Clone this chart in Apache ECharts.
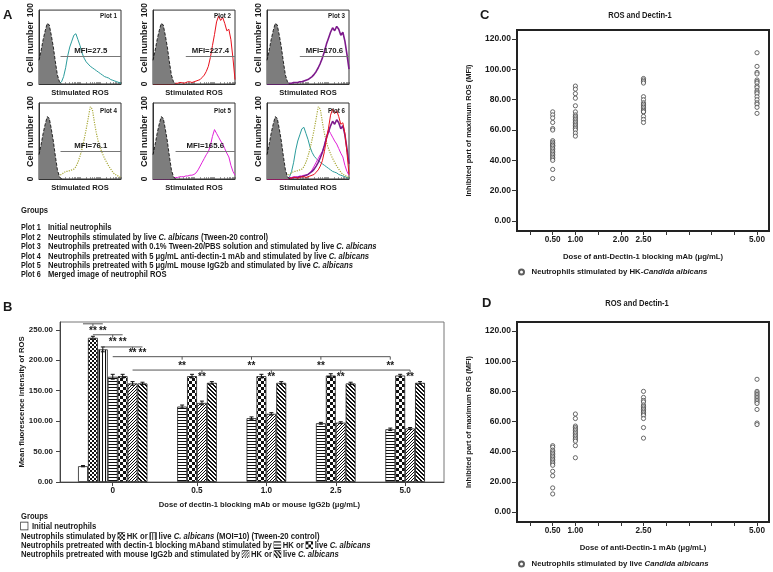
<!DOCTYPE html>
<html>
<head>
<meta charset="utf-8">
<script src="https://cdn.jsdelivr.net/npm/echarts@6.0.0/dist/echarts.min.js"></script>
<style>
html,body{margin:0;padding:0;background:#fff;}
#chart{width:773px;height:572px;}
</style>
</head>
<body>
<div id="chart"></div>
<script>
// ================= DATA =================
// Panel A: flow cytometry histograms (41 log-scale bins, % of max cell number)
const greyHist  = [32,45,60,72,82,80,66,50,30,12,3,0];
const plot1Hist = [1,1,1,1,1,1,1,1,1,1,1,3,10,22,38,50,58,66,68,60,52,42,35,30,27,24,22,20,18,16,14,12,10,9,8,6,5,4,3,2,1];
const plot2Hist = [0,0,0,0,0,0,0,0,0,0,0,1,1,2,2,1,2,3,3,2,3,4,5,6,9,12,17,24,36,52,67,84,92,86,90,82,72,74,60,35,6];
const plot3Hist = [0,0,0,0,0,0,0,0,0,0,0,1,1,2,2,2,3,3,4,5,6,8,10,13,17,22,28,35,44,54,62,70,76,72,78,74,66,70,58,40,20];
const plot4Hist = [3,3,3,3,4,4,4,4,5,5,5,6,8,10,10,11,12,13,16,22,30,40,52,65,80,95,92,75,60,48,40,33,27,22,17,13,9,6,5,3,2];
const plot5Hist = [0,0,0,0,0,0,0,0,0,1,2,2,2,3,3,3,4,4,5,5,6,8,12,17,22,27,32,36,44,56,65,60,55,50,46,40,34,29,18,10,5];
const plotNames = ['Plot 1','Plot 2','Plot 3','Plot 4','Plot 5','Plot 6'];
const mfiText = ['MFI=27.5','MFI=227.4','MFI=170.6','MFI=76.1','MFI=165.6'];
const mfiGateStart = [10.5, 16, 16, 10.5, 11];
const mfiGateLevel = [38, 38, 38, 37, 37];
const plotDescriptions = [
  'Initial neutrophils',
  'Neutrophils stimulated by live {i|C. albicans} (Tween-20 control)',
  'Neutrophils pretreated with 0.1% Tween-20/PBS solution and stimulated by live {i|C. albicans}',
  'Neutrophils pretreated with 5 μg/mL anti-dectin-1 mAb and stimulated by live {i|C. albicans}',
  'Neutrophils pretreated with 5 μg/mL mouse IgG2b and stimulated by live {i|C. albicans}',
  'Merged image of neutrophil ROS'
];

// Panel B: mean fluorescence intensity of ROS
const doseLabelsB = ['0','0.5','1.0','2.5','5.0'];
const initialMean = 26,  initialErr = 1;
const hkMean0 = 237,     hkErr0 = 2.5;
const liveMean0 = 218,   liveErr0 = 4;
const mAbHK     = [173, 124, 105, 96.5, 86.6];
const mAbHKErr  = [4, 2.5, 2, 1.5, 2];
const mAbLive   = [174, 174, 174, 175, 175];
const mAbLiveErr= [3, 3, 3, 3, 2];
const iggHK     = [162, 130, 112, 97.5, 88];
const iggHKErr  = [3, 3, 2, 1.5, 1.5];
const iggLive   = [162, 163, 163, 162, 163];
const iggLiveErr= [2, 2, 2, 2, 2];
// significance brackets: [group, slot] references
const bracketsB = [
  {from:[0,0], to:[0,2], ticks:[[0,1]], level:260, stars:[[0,1],[0,2]], starLevel:247},
  {from:[0,1], to:[0,4], ticks:[[0,3]], level:242, stars:[[0,3],[0,4]], starLevel:230},
  {from:[0,2], to:[0,6], ticks:[[0,5]], level:222, stars:[[0,5],[0,6]], starLevel:211},
  {from:[0,3], to:[4,0], ticks:[[1,0],[2,0],[3,0],[4,0]], level:206, stars:[[1,0],[2,0],[3,0],[4,0]], starLevel:191},
  {from:[0,5], to:[4,2], ticks:[[1,2],[2,2],[3,2],[4,2]], level:184, stars:[[1,2],[2,2],[3,2],[4,2]], starLevel:172}
];
const yTicksB = [0,50,100,150,200,250];

// Panels C & D: inhibited part of maximum ROS
const dosesCD = [0.5, 1.0, 2.5, 5.0];
const valuesC = [
  [72,70,68,65,61,60,53,52,51,50,50,49,48,47,46,45,44,43,42,41,40,34,28],
  [89,87,84,81,76,72,70,69,68,67,66,65,64,63,62,61,60,58,56],
  [94,93,92,91,82,80,78,77,76,75,74,73,72,72,69,67,65],
  [111,102,98,97,93,92,91,89,88,86,85,84,82,80,78,77,75,71]
];
const valuesD = [
  [44,43,41,40,39,38,37,36,35,34,33,32,31,27,24,16,12],
  [65,62,57,56,55,54,53,52,51,50,49,48,47,44,36],
  [80,76,74,73,71,70,69,68,67,66,65,64,62,56,49],
  [88,80,79,78,77,76,75,74,73,72,68,59,58]
];
const xTicksCD = [0,0.5,1,1.5,2,2.5,3,3.5,4,4.5,5];
const xLabelsC = [0.5,1,2,2.5,5];
const xLabelsD = [0.5,1,2.5,5];
const yTicksCD = [0,20,40,60,80,100,120];

// ================= RENDER =================
const FN = "'Liberation Sans',Arial,Helvetica,sans-serif";
const TXT = '#1a1a1a';

function patternOn(kind,x,y){
  switch(kind){
    case 'fineCheck': return ((x>>1)+(y>>1))%2===0;
    case 'vert': return x%3===0;
    case 'horiz': return y%3===0;
    case 'check': return (Math.floor(x/3)+Math.floor(y/3))%2===0;
    case 'diagA': return (x+y)%3===0;
    case 'diagB': return (((x-y)%4)+4)%4<2;
  }
  return false;
}
function patternCanvas(kind,w,h){
  const c=document.createElement('canvas'); c.width=w; c.height=h;
  const g=c.getContext('2d'); g.fillStyle='#fff'; g.fillRect(0,0,w,h);
  g.fillStyle='#111';
  for(let y=0;y<h;y++) for(let x=0;x<w;x++) if(patternOn(kind,x,y)) g.fillRect(x,y,1,1);
  return c;
}

const grids=[], xAxes=[], yAxes=[], series=[], graphics=[];
const boldN = (s)=>({fontFamily:FN,fontWeight:'bold',fontSize:s,color:TXT});

// text drawn at (x,y), optionally condensed horizontally by sx
function addText(x,y,text,size,opts){
  opts = opts||{};
  graphics.push({type:'text', z:100, silent:true, x:x, y:y, scaleX:opts.sx||1, scaleY:1,
    style:Object.assign({
      x:0, y:0, text:text, fill:TXT,
      font:'bold '+size+'px '+FN,
      textAlign:opts.align||'left', align:opts.align||'left',
      textVerticalAlign:'middle', verticalAlign:'middle'
    }, opts.style||{})});
}

// ---- Panel A ----
const hists=[plot1Hist,plot2Hist,plot3Hist,plot4Hist,plot5Hist];
const curveColors=['#2b9c9c','#e8101c','#7d1a8c','#a9a93a','#e020d8'];
const curveTypes=['solid','solid','solid','dotted','solid'];
const curveWidths=[1,1,1.6,1.2,1];
const miniLeft=[39,153,267], miniTop=[8,103], miniW=82, miniH=76;
const logTicks=[]; for(let d=0; d<4; d++) for(let k=1;k<=9;k++) logTicks.push(d*10+10*Math.log10(k)); logTicks.push(40);
for(let p=0;p<6;p++){
  const col=p%3, row=Math.floor(p/3);
  grids.push({left:miniLeft[col], top:miniTop[row], width:miniW, height:miniH, show:true, borderColor:'#333', borderWidth:1});
  xAxes.push({gridIndex:p, type:'value', min:0, max:40,
    axisLine:{show:true,onZero:false,lineStyle:{color:'#333',width:1}},
    axisTick:{show:true,inside:true,length:2,customValues:logTicks,lineStyle:{color:'#555',width:0.6}},
    axisLabel:{show:false}, splitLine:{show:false},
    name:'Stimulated ROS', nameLocation:'middle', nameGap:5, nameMoveOverlap:false, nameTextStyle:boldN(7.6)});
  yAxes.push({gridIndex:p, type:'value', min:0, max:100,
    axisLine:{show:true,onZero:false,lineStyle:{color:'#333',width:1}}, axisTick:{show:false}, splitLine:{show:false},
    axisLabel:Object.assign({customValues:[0,100], rotate:90, margin:4}, boldN(8.5)),
    name:'Cell number', nameLocation:'middle', nameGap:4, nameMoveOverlap:false, nameTextStyle:boldN(9)});
  const curves = p<5 ? [p] : [0,3,4,2,1];
  curves.forEach(ci=>{
    const s={type:'line', xAxisIndex:p, yAxisIndex:p, data:hists[ci].map((v,k)=>[k,v]), symbol:'none',
      lineStyle:{color:curveColors[ci], width:curveWidths[ci], type:curveTypes[ci]}, z:2, silent:true};
    if(p<5){
      s.markLine={symbol:'none', silent:true, animation:false,
        lineStyle:{color:'#777',width:1,type:'solid'},
        label:Object.assign({show:true, position:'middle', distance:1, formatter:mfiText[p]}, boldN(7.8)),
        data:[[{coord:[mfiGateStart[p], mfiGateLevel[p]]},{coord:[40, mfiGateLevel[p]]}]]};
    }
    series.push(s);
  });
  series.push({type:'line', xAxisIndex:p, yAxisIndex:p, data:greyHist.map((v,k)=>[k,v]), symbol:'none',
    lineStyle:{color:'#000',width:0.8,type:'dashed'}, areaStyle:{color:'#7d7d7d',opacity:1}, z:3, silent:true});
  addText(miniLeft[col]+miniW-4, miniTop[row]+8, plotNames[p], 8, {align:'right', sx:0.78});
}
addText(3,15,'A',13);
addText(21,210,'Groups',9.3,{sx:0.82});
const descY=[227,237,246,256,265,274];
const AS=9.3, ASX=0.82;
const richA={i:{fontFamily:FN,fontWeight:'bold',fontStyle:'italic',fontSize:AS,color:TXT}};
plotNames.forEach((n,i)=>{
  addText(21,descY[i],n,AS,{sx:0.78, style:{rich:richA}});
  addText(48,descY[i],plotDescriptions[i],AS,{sx:ASX, style:{rich:richA}});
});

// ---- Panel B ----
const GB=6;
const groupSlots=[7,4,4,4,4], slotGap=3;
const groupStart=[]; {let acc=0; groupSlots.forEach(n=>{groupStart.push(acc); acc+=n+slotGap;});}
const slotX=(g,s)=>groupStart[g]+s+0.5;
const groupCenters=groupSlots.map((n,g)=>groupStart[g]+n/2);
const lastEnd=groupStart[4]+groupSlots[4];
grids.push({left:60, top:322, width:384, height:160, show:true, borderColor:'#777', borderWidth:1});
xAxes.push({gridIndex:GB, type:'value', min:-1.82, max:lastEnd+1.92,
  axisLine:{show:true,onZero:false,lineStyle:{color:'#444',width:1}},
  axisTick:{show:true,length:4,customValues:groupCenters,lineStyle:{color:'#444'}},
  axisLabel:Object.assign({customValues:groupCenters, margin:5,
    formatter:v=>{const i=groupCenters.findIndex(c=>Math.abs(c-v)<1e-6); return i>=0?doseLabelsB[i]:'';}}, boldN(8.2)),
  splitLine:{show:false},
  name:'Dose of dectin-1 blocking mAb or mouse IgG2b (μg/mL)', nameLocation:'middle', nameGap:19, nameMoveOverlap:false,
  nameTextStyle:Object.assign({padding:[0,0,0,15]}, boldN(7.6))});
yAxes.push({gridIndex:GB, type:'value', min:0, max:263,
  axisLine:{show:true,onZero:false,lineStyle:{color:'#444',width:1}},
  axisTick:{show:true,length:4,customValues:yTicksB,lineStyle:{color:'#444'}},
  axisLabel:Object.assign({customValues:yTicksB, margin:7, formatter:v=>v.toFixed(2)}, boldN(7.9)),
  splitLine:{show:false},
  name:'Mean fluorescence intensity of ROS', nameLocation:'middle', nameGap:34, nameMoveOverlap:false, nameTextStyle:boldN(7.7)});

const tile=k=>({image:patternCanvas(k,12,12), repeat:'repeat'});
const barDefs=[
  {name:'Initial', fill:'#fff', data:[[slotX(0,0),initialMean]]},
  {name:'HK', fill:tile('fineCheck'), data:[[slotX(0,1),hkMean0]]},
  {name:'Live', fill:tile('vert'), data:[[slotX(0,2),liveMean0]]},
  {name:'mAb HK', fill:tile('horiz'), data:mAbHK.map((v,g)=>[slotX(g,g===0?3:0),v])},
  {name:'mAb live', fill:tile('check'), data:mAbLive.map((v,g)=>[slotX(g,g===0?4:1),v])},
  {name:'IgG2b HK', fill:tile('diagA'), data:iggHK.map((v,g)=>[slotX(g,g===0?5:2),v])},
  {name:'IgG2b live', fill:tile('diagB'), data:iggLive.map((v,g)=>[slotX(g,g===0?6:3),v])}
];
barDefs.forEach(b=>series.push({type:'bar', name:b.name, xAxisIndex:GB, yAxisIndex:GB, data:b.data,
  barWidth:9.9, barGap:'-100%', silent:true,
  itemStyle:{color:b.fill, borderColor:'#222', borderWidth:0.8}}));

const errData=[[slotX(0,0),initialMean,initialErr],[slotX(0,1),hkMean0,hkErr0],[slotX(0,2),liveMean0,liveErr0]];
for(let g=0;g<5;g++){
  const o=g===0?3:0;
  errData.push([slotX(g,o),mAbHK[g],mAbHKErr[g]]);
  errData.push([slotX(g,o+1),mAbLive[g],mAbLiveErr[g]]);
  errData.push([slotX(g,o+2),iggHK[g],iggHKErr[g]]);
  errData.push([slotX(g,o+3),iggLive[g],iggLiveErr[g]]);
}
series.push({type:'custom', xAxisIndex:GB, yAxisIndex:GB, data:errData, encode:{x:0,y:1}, silent:true, z:5,
  renderItem:(params,api)=>{
    const x=api.value(0), v=api.value(1), e=api.value(2);
    const t=api.coord([x,v+e]), b=api.coord([x,v-e]); const c=2;
    const st={stroke:'#111',lineWidth:1};
    return {type:'group',children:[
      {type:'line',shape:{x1:t[0],y1:t[1],x2:b[0],y2:b[1]},style:st},
      {type:'line',shape:{x1:t[0]-c,y1:t[1],x2:t[0]+c,y2:t[1]},style:st},
      {type:'line',shape:{x1:b[0]-c,y1:b[1],x2:b[0]+c,y2:b[1]},style:st}]};
  }});
series.push({type:'custom', xAxisIndex:GB, yAxisIndex:GB, silent:true, z:6,
  data:bracketsB.map((b,i)=>[slotX(...b.from), b.level, i]), encode:{x:0,y:1},
  renderItem:(params,api)=>{
    const b=bracketsB[api.value(2)];
    const p1=api.coord([slotX(...b.from),b.level]), p2=api.coord([slotX(...b.to),b.level]);
    const st={stroke:'#555',lineWidth:1};
    const ch=[{type:'line',shape:{x1:p1[0],y1:p1[1],x2:p2[0],y2:p2[1]},style:st}];
    b.ticks.forEach(t=>{const q=api.coord([slotX(...t),b.level]);
      ch.push({type:'line',shape:{x1:q[0],y1:q[1],x2:q[0],y2:q[1]+3},style:st});});
    b.stars.forEach(s=>{const q=api.coord([slotX(...s),b.starLevel]);
      ch.push({type:'text',style:{text:'**',x:q[0],y:q[1],font:'bold 10px '+FN,fill:TXT,
        textAlign:'center',align:'center',textVerticalAlign:'middle',verticalAlign:'middle'}});});
    return {type:'group',children:ch};
  }});
addText(3,307,'B',13);
addText(21,516,'Groups',9.3,{sx:0.82});
const BS=9.3, BSX=0.83;
const box=k=>({width:8,height:7,borderColor:'#222',borderWidth:0.8,backgroundColor:k?{image:patternCanvas(k,8,7)}:'#fff'});
const richB={i:{fontFamily:FN,fontWeight:'bold',fontStyle:'italic',fontSize:BS,color:TXT},
  b0:box(null), b1:box('fineCheck'), b2:box('vert'), b3:box('horiz'), b4:box('check'), b5:box('diagA'), b6:box('diagB')};
const legendBLines=[
  '{b0| }  Initial neutrophils',
  'Neutrophils stimulated by {b1| } HK or {b2| } live {i|C. albicans} (MOI=10) (Tween-20 control)',
  'Neutrophils pretreated with dectin-1 blocking mAband stimulated by {b3| } HK or {b4| } live {i|C. albicans}',
  'Neutrophils pretreated with mouse IgG2b and stimulated by {b5| } HK or {b6| } live {i|C. albicans}'
];
const legendBY=[526,536,545,554];
legendBLines.forEach((l,i)=>addText(21,legendBY[i],l,BS,{sx:BSX, style:{rich:richB}}));

// ---- Panels C & D ----
function scatterPanel(gi, top, height, values, xLabels, xName, seriesName){
  grids.push({left:517, top:top, width:252, height:height, show:true, borderColor:'#222', borderWidth:2});
  xAxes.push({gridIndex:gi, type:'value', min:-0.286, max:5.264,
    axisLine:{show:false,onZero:false},
    axisTick:{show:true,length:4,customValues:xTicksCD,lineStyle:{color:'#333'}},
    axisLabel:Object.assign({customValues:xLabels, margin:5, formatter:v=>v.toFixed(2)}, boldN(8.2)),
    splitLine:{show:false},
    name:xName, nameLocation:'middle', nameGap:22, nameMoveOverlap:false, nameTextStyle:boldN(7.7)});
  yAxes.push({gridIndex:gi, type:'value', min:-6.6, max:126,
    axisLine:{show:false,onZero:false},
    axisTick:{show:true,length:5,customValues:yTicksCD,lineStyle:{color:'#333'}},
    axisLabel:Object.assign({customValues:yTicksCD, margin:6, formatter:v=>v.toFixed(2)}, boldN(8.5)),
    splitLine:{show:false},
    name:'Inhibited part of maximum ROS (MFI)', nameLocation:'middle', nameGap:44, nameMoveOverlap:false, nameTextStyle:boldN(7.5)});
  const data=[]; dosesCD.forEach((d,i)=>values[i].forEach(v=>data.push([d,v])));
  series.push({type:'scatter', name:seriesName, xAxisIndex:gi, yAxisIndex:gi, data:data, symbol:'circle', symbolSize:4.2,
    itemStyle:{color:'#fff', borderColor:'#333', borderWidth:0.9}, silent:true});
}
scatterPanel(7, 30, 201, valuesC, xLabelsC, 'Dose of anti-Dectin-1 blocking mAb (μg/mL)', 'Neutrophils stimulated by HK-Candida albicans');
scatterPanel(8, 322, 200, valuesD, xLabelsD, 'Dose of anti-Dectin-1 mAb (μg/mL)', 'Neutrophils stimulated by live Candida albicans');
addText(480,15,'C',13);
addText(640,15,'ROS and Dectin-1',9.2,{align:'center', sx:0.82});
addText(482,303,'D',13);
addText(637,303,'ROS and Dectin-1',9.2,{align:'center', sx:0.82});

const legRich={n:boldN(7.8), i:Object.assign({fontStyle:'italic'},boldN(7.8))};
const legendFmt=name=>{const k=name.indexOf('Candida'); return '{n|'+name.slice(0,k)+'}{i|'+name.slice(k)+'}';};
const legends=[
  {data:['Neutrophils stimulated by HK-Candida albicans'], left:518, top:268},
  {data:['Neutrophils stimulated by live Candida albicans'], left:518, top:560}
].map(l=>Object.assign(l,{itemWidth:10,itemHeight:5,icon:'circle',formatter:legendFmt,
  textStyle:{rich:legRich}, selectedMode:false, padding:0}));

const option={
  animation:false,
  backgroundColor:'#fff',
  grid:grids, xAxis:xAxes, yAxis:yAxes, series:series, graphic:graphics, legend:legends
};
const chart=echarts.init(document.getElementById('chart'),null,{renderer:'canvas',width:773,height:572});
chart.setOption(option);
</script>
</body>
</html>
